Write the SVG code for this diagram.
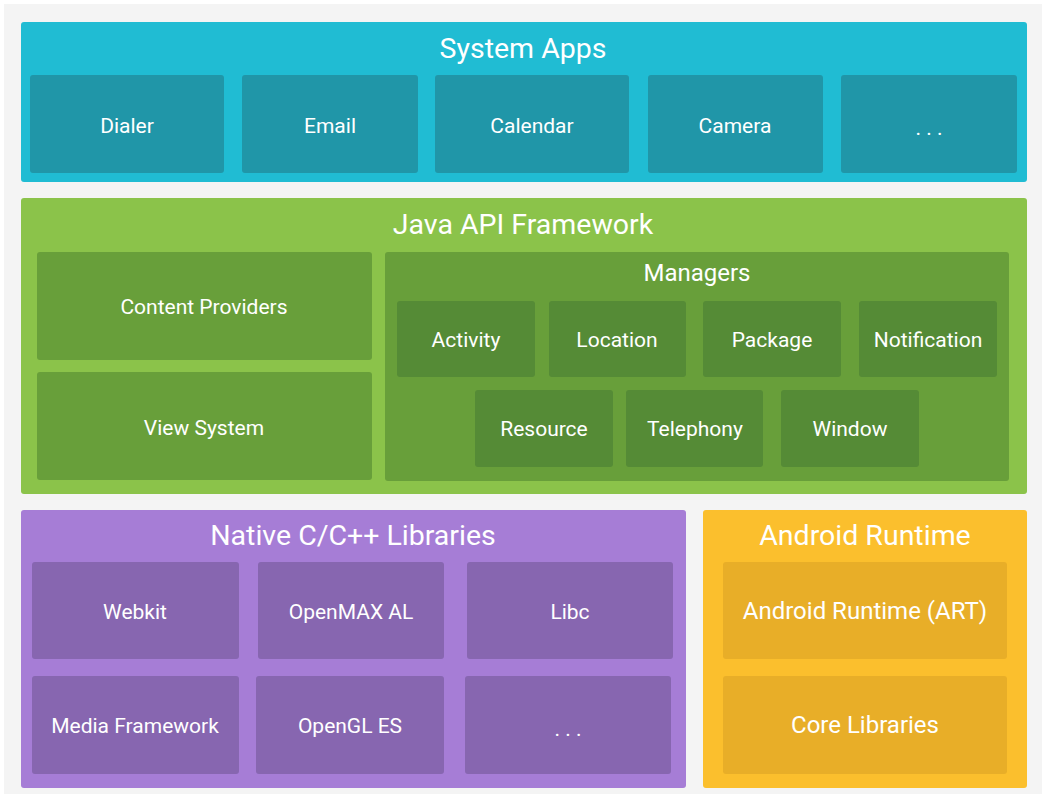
<svg xmlns="http://www.w3.org/2000/svg" width="1048" height="798" viewBox="0 0 1048 798">
<style>
text{font-family:Roboto,"Noto Sans","Liberation Sans",sans-serif;fill:#fff;text-anchor:middle}
.t{font-size:28.5px}
.l{font-size:21px}
.m{font-size:24px}
.c1{fill:#20BCD3}.c2{fill:#2096A8}
.g1{fill:#8BC34A}.g2{fill:#689F3A}.g3{fill:#558B36}
.p1{fill:#A67DD6}.p2{fill:#8766B0}
.y1{fill:#FBBF2D}.y2{fill:#E8AE28}
</style>
<rect x="0" y="0" width="1048" height="798" fill="#fff"/>
<rect x="4" y="4" width="1038" height="790" fill="#F4F4F4"/>

<g id="system-apps">
<rect class="c1" x="21" y="22" width="1006" height="160" rx="3"/>
<text class="t" x="523" y="57.5">System Apps</text>
</g>
<g id="dialer"><rect class="c2" x="30" y="75" width="194" height="98" rx="3"/><text class="l" x="127" y="132.5">Dialer</text></g>
<g id="email"><rect class="c2" x="242" y="75" width="176" height="98" rx="3"/><text class="l" x="330" y="132.5">Email</text></g>
<g id="calendar"><rect class="c2" x="435" y="75" width="194" height="98" rx="3"/><text class="l" x="532" y="132.5">Calendar</text></g>
<g id="camera"><rect class="c2" x="648" y="75" width="175" height="98" rx="3"/><text class="l" x="735" y="132.5">Camera</text></g>
<g id="apps-more"><rect class="c2" x="841" y="75" width="176" height="98" rx="3"/><text class="l" x="929" y="135">. . .</text></g>

<g id="java-api">
<rect class="g1" x="21" y="198" width="1006" height="296" rx="3"/>
<text class="t" x="523" y="233.5">Java API Framework</text>
</g>
<g id="content-providers"><rect class="g2" x="37" y="252" width="335" height="108" rx="3"/><text class="l" x="204" y="314">Content Providers</text></g>
<g id="view-system"><rect class="g2" x="37" y="372" width="335" height="108" rx="3"/><text class="l" x="204" y="435">View System</text></g>
<g id="managers">
<rect class="g2" x="385" y="252" width="624" height="229" rx="3"/>
<text class="m" x="697" y="280.5">Managers</text>
</g>
<g id="activity"><rect class="g3" x="397" y="301" width="138" height="76" rx="3"/><text class="l" x="466" y="347">Activity</text></g>
<g id="location"><rect class="g3" x="549" y="301" width="137" height="76" rx="3"/><text class="l" x="617" y="347">Location</text></g>
<g id="package"><rect class="g3" x="703" y="301" width="138" height="76" rx="3"/><text class="l" x="772" y="347">Package</text></g>
<g id="notification"><rect class="g3" x="859" y="301" width="138" height="76" rx="3"/><text class="l" x="928" y="347">Notification</text></g>
<g id="resource"><rect class="g3" x="475" y="390" width="138" height="77" rx="3"/><text class="l" x="544" y="436">Resource</text></g>
<g id="telephony"><rect class="g3" x="626" y="390" width="137" height="77" rx="3"/><text class="l" x="695" y="436">Telephony</text></g>
<g id="window"><rect class="g3" x="781" y="390" width="138" height="77" rx="3"/><text class="l" x="850" y="436">Window</text></g>

<g id="native-libs">
<rect class="p1" x="21" y="510" width="665" height="278" rx="3"/>
<text class="t" x="353" y="545">Native C/C++ Libraries</text>
</g>
<g id="webkit"><rect class="p2" x="32" y="562" width="207" height="97" rx="3"/><text class="l" x="135" y="618.5">Webkit</text></g>
<g id="openmax"><rect class="p2" x="258" y="562" width="186" height="97" rx="3"/><text class="l" x="351" y="618.5">OpenMAX AL</text></g>
<g id="libc"><rect class="p2" x="467" y="562" width="206" height="97" rx="3"/><text class="l" x="570" y="618.5">Libc</text></g>
<g id="media-framework"><rect class="p2" x="32" y="676" width="207" height="98" rx="3"/><text class="l" x="135" y="732.5">Media Framework</text></g>
<g id="opengl"><rect class="p2" x="256" y="676" width="188" height="98" rx="3"/><text class="l" x="350" y="732.5">OpenGL ES</text></g>
<g id="native-more"><rect class="p2" x="465" y="676" width="206" height="98" rx="3"/><text class="l" x="568" y="736">. . .</text></g>

<g id="android-runtime">
<rect class="y1" x="703" y="510" width="324" height="278" rx="3"/>
<text class="t" x="865" y="545">Android Runtime</text>
</g>
<g id="art"><rect class="y2" x="723" y="562" width="284" height="97" rx="3"/><text class="m" x="865" y="619">Android Runtime (ART)</text></g>
<g id="core-libraries"><rect class="y2" x="723" y="676" width="284" height="98" rx="3"/><text class="m" x="865" y="733">Core Libraries</text></g>

<g id="connectors"/>
</svg>
